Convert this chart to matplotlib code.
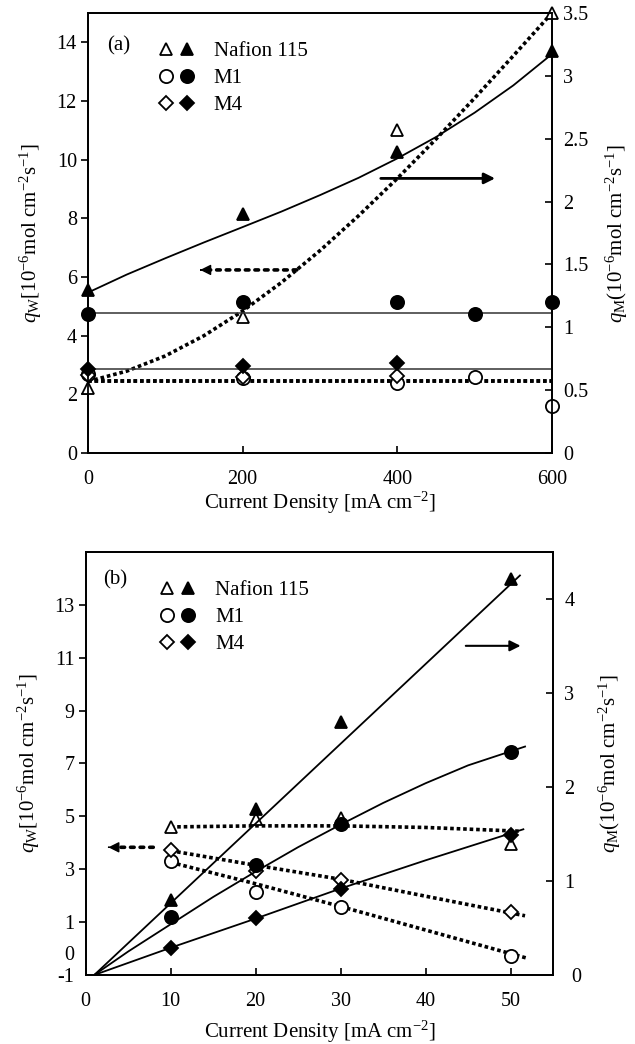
import matplotlib
matplotlib.use("Agg")
import matplotlib.pyplot as plt
from matplotlib.legend_handler import HandlerTuple

plt.rcParams['font.family'] = ['Liberation Serif', 'DejaVu Serif']
plt.rcParams['mathtext.fontset'] = 'custom'
plt.rcParams['mathtext.rm'] = 'Liberation Serif'
plt.rcParams['mathtext.it'] = 'Liberation Serif:italic'
plt.rcParams['font.size'] = 15

# ---- panel (a) data ----
cd_a = [0, 200, 400, 600]
naf_open_a = [2.2, 4.65, 11.0, 15.0]          # q_W, left axis
naf_fill_a = [1.295, 1.904, 2.396, 3.201]     # q_M, right axis
m1_x_a = [0, 200, 400, 500, 600]
m1_open_a = [2.7, 2.55, 2.4, 2.6, 1.6]
m1_fill_a = [1.104, 1.197, 1.197, 1.104, 1.197]
m4_x_a = [0, 200, 400]
m4_open_a = [2.65, 2.6, 2.62]
m4_fill_a = [0.665, 0.690, 0.717]

# trend lines
fit_xa = [0, 50, 100, 150, 200, 250, 300, 350, 400, 450, 500, 550, 600]
naf_open_fit_ya = [2.44, 2.79, 3.31, 4.00, 4.84, 5.81, 6.90, 8.09, 9.36, 10.70, 12.10, 13.54, 15.0]
naf_fill_fit_ya = [1.276, 1.419, 1.549, 1.675, 1.797, 1.920, 2.051, 2.189, 2.343, 2.513, 2.707, 2.924, 3.173]
flat_xa = [0, 600]
m1_fill_fit_a = [1.113, 1.113]
m4_fill_fit_a = [0.669, 0.669]
m1_open_fit_a = [2.45, 2.45]
m4_open_fit_a = [2.45, 2.45]

# ---- panel (b) data ----
cd_b = [10, 20, 30, 50]
naf_open_b = [4.61, 4.89, 4.95, 3.94]
naf_fill_b = [0.796, 1.77, 2.69, 4.21]
m1_open_b = [3.30, 2.14, 1.59, -0.30]
m1_fill_b = [0.619, 1.168, 1.61, 2.37]
m4_open_b = [3.72, 2.92, 2.61, 1.37]
m4_fill_b = [0.283, 0.602, 0.92, 1.486]

naf_open_fit_xb = [10, 20, 30, 40, 51]
naf_open_fit_yb = [4.60, 4.64, 4.64, 4.58, 4.44]
m1_open_fit_xb = [10, 20, 30, 40, 52]
m1_open_fit_yb = [3.26, 2.45, 1.59, 0.70, -0.37]
m4_open_fit_xb = [10, 20, 30, 40, 51.7]
m4_open_fit_yb = [3.70, 3.15, 2.62, 1.98, 1.24]
naf_fill_fit_xb = [1, 51.1]
naf_fill_fit_yb = [0, 4.25]
m1_fill_fit_xb = [1, 5, 10, 15, 20, 25, 30, 35, 40, 45, 51.7]
m1_fill_fit_yb = [0, 0.25, 0.54, 0.83, 1.10, 1.36, 1.60, 1.83, 2.04, 2.23, 2.43]
m4_fill_fit_xb = [1, 10, 20, 30, 40, 51.5]
m4_fill_fit_yb = [0, 0.29, 0.60, 0.92, 1.22, 1.55]

labels = ['Nafion 115', 'M1', 'M4']
left_label = r'$q_{\mathrm{W}}$[10$^{-6}$mol cm$^{-2}$s$^{-1}$]'
right_label = r'$q_{\mathrm{M}}$(10$^{-6}$mol cm$^{-2}$s$^{-1}$]'

dot = (0, (1, 0.8))
mk = dict(markeredgecolor='black', markeredgewidth=1.3, linestyle='none', clip_on=False, zorder=5)
open_kw = dict(markerfacecolor='white', **mk)
fill_kw = dict(markerfacecolor='black', **mk)
ms = {'^': 9, 'o': 9.5, 'D': 7}

fig = plt.figure(figsize=(6.35, 10.44), dpi=100)
ax_a = fig.add_axes([0.1386, 0.5661, 0.7307, 0.4215])
ax_b = fig.add_axes([0.1350, 0.0661, 0.7360, 0.4052])


def style(ax, ax2, xlabelpad):
    for a in (ax, ax2):
        for s in a.spines.values():
            s.set_linewidth(1.3)
    ax.tick_params(axis='y', direction='out', length=5, width=1.2, labelsize=14.5, pad=3)
    ax.tick_params(axis='x', direction='in', length=5, width=1.2, labelsize=14.5, pad=12)
    ax2.tick_params(axis='y', direction='in', length=5, width=1.2, labelsize=14.5, pad=8)
    ax.set_xlabel('Current Density [mA cm$^{-2}$]', fontsize=15, labelpad=xlabelpad)
    ax.set_ylabel(left_label, fontsize=15, labelpad=9)
    ax2.set_ylabel(right_label, fontsize=15, labelpad=11)


def dotted_arrow(ax, tip, tail):
    # dotted shaft, solid filled head
    ax.annotate('', xy=tip, xytext=tail,
                arrowprops=dict(arrowstyle='-', color='black', lw=2.6, linestyle=':',
                                shrinkA=0, shrinkB=6))
    ax.annotate('', xy=tip, xytext=(tip[0] + (tail[0] - tip[0]) * 0.01, tip[1]),
                arrowprops=dict(arrowstyle='-|>', color='black', lw=1, mutation_scale=16,
                                shrinkA=0, shrinkB=0))


# ---------- panel (a) ----------
ax_a2 = ax_a.twinx()
ax_a.set_xlim(0, 600)
ax_a.set_ylim(0, 15)
ax_a2.set_ylim(0, 3.5)
ax_a.set_xticks([0, 200, 400, 600])
ax_a.set_yticks(range(0, 15, 2))
ax_a2.set_yticks([0, 0.5, 1, 1.5, 2, 2.5, 3, 3.5], labels=['0', '0.5', '1', '1.5', '2', '2.5', '3', '3.5'])

ax_a.plot(fit_xa, naf_open_fit_ya, color='black', lw=2.6, linestyle=dot)
ax_a.plot(flat_xa, m1_open_fit_a, color='black', lw=2.6, linestyle=dot)
ax_a.plot(flat_xa, m4_open_fit_a, color='black', lw=2.6, linestyle=dot)
ax_a2.plot(fit_xa, naf_fill_fit_ya, color='black', lw=1.3)
ax_a2.plot(flat_xa, m1_fill_fit_a, color='#333333', lw=1.1)
ax_a2.plot(flat_xa, m4_fill_fit_a, color='#333333', lw=1.1)

h_no, = ax_a.plot(cd_a, naf_open_a, marker='^', markersize=ms['^'], **open_kw)
h_mo, = ax_a.plot(m1_x_a, m1_open_a, marker='o', markersize=ms['o'], **open_kw)
h_do, = ax_a.plot(m4_x_a, m4_open_a, marker='D', markersize=ms['D'], **open_kw)
h_nf, = ax_a2.plot(cd_a, naf_fill_a, marker='^', markersize=ms['^'], **fill_kw)
h_mf, = ax_a2.plot(m1_x_a, m1_fill_a, marker='o', markersize=ms['o'], **fill_kw)
h_df, = ax_a2.plot(m4_x_a, m4_fill_a, marker='D', markersize=ms['D'], **fill_kw)

ax_a.annotate('', xy=(530, 9.36), xytext=(375, 9.36),
              arrowprops=dict(arrowstyle='-|>', color='black', lw=2, mutation_scale=16))
dotted_arrow(ax_a, (145, 6.24), (270, 6.24))
ax_a.text(0.067, 0.925, '(a)', transform=ax_a.transAxes, ha='center', va='center', fontsize=15)
ax_a2.legend([(h_no, h_nf), (h_mo, h_mf), (h_do, h_df)], labels,
             handler_map={tuple: HandlerTuple(ndivide=None, pad=0)},
             loc='upper left', bbox_to_anchor=(0.1455, 0.935), frameon=False,
             borderpad=0, borderaxespad=0, handlelength=2.0, handletextpad=0.8,
             labelspacing=0.35, fontsize=15)
style(ax_a, ax_a2, 1)

# ---------- panel (b) ----------
ax_b2 = ax_b.twinx()
ax_b.set_xlim(0, 55)
ax_b.set_ylim(-1, 15)
ax_b2.set_ylim(0, 4.5)
ax_b.set_xticks([0, 10, 20, 30, 40, 50])
ax_b.set_yticks([1, 3, 5, 7, 9, 11, 13])
ax_b.set_yticks([-1, -0.15], labels=['-1', '0'], minor=True)
ax_b.tick_params(axis='y', which='minor', length=0, labelsize=14.5, pad=8)
ax_b2.set_yticks([1, 2, 3, 4])
ax_b2.set_yticks([0], labels=['0'], minor=True)
ax_b2.tick_params(axis='y', which='minor', length=0, labelsize=14.5, pad=13)

ax_b.plot(naf_open_fit_xb, naf_open_fit_yb, color='black', lw=2.6, linestyle=dot)
ax_b.plot(m1_open_fit_xb, m1_open_fit_yb, color='black', lw=2.6, linestyle=dot)
ax_b.plot(m4_open_fit_xb, m4_open_fit_yb, color='black', lw=2.6, linestyle=dot)
ax_b2.plot(naf_fill_fit_xb, naf_fill_fit_yb, color='black', lw=1.3)
ax_b2.plot(m1_fill_fit_xb, m1_fill_fit_yb, color='black', lw=1.3)
ax_b2.plot(m4_fill_fit_xb, m4_fill_fit_yb, color='black', lw=1.3)

g_no, = ax_b.plot(cd_b, naf_open_b, marker='^', markersize=ms['^'], **open_kw)
g_mo, = ax_b.plot(cd_b, m1_open_b, marker='o', markersize=ms['o'], **open_kw)
g_do, = ax_b.plot(cd_b, m4_open_b, marker='D', markersize=ms['D'], **open_kw)
g_nf, = ax_b2.plot(cd_b, naf_fill_b, marker='^', markersize=ms['^'], **fill_kw)
g_mf, = ax_b2.plot(cd_b, m1_fill_b, marker='o', markersize=ms['o'], **fill_kw)
g_df, = ax_b2.plot(cd_b, m4_fill_b, marker='D', markersize=ms['D'], **fill_kw)

ax_b.annotate('', xy=(51.5, 11.45), xytext=(44.4, 11.45),
              arrowprops=dict(arrowstyle='-|>', color='black', lw=1.5, mutation_scale=16))
dotted_arrow(ax_b, (2.66, 3.83), (7.95, 3.83))
ax_b.text(0.062, 0.935, '(b)', transform=ax_b.transAxes, ha='center', va='center', fontsize=15)
ax_b2.legend([(g_no, g_nf), (g_mo, g_mf), (g_do, g_df)], labels,
             handler_map={tuple: HandlerTuple(ndivide=None, pad=0)},
             loc='upper left', bbox_to_anchor=(0.152, 0.932), frameon=False,
             borderpad=0, borderaxespad=0, handlelength=2.0, handletextpad=0.8,
             labelspacing=0.35, fontsize=15)
style(ax_b, ax_b2, 6)

fig.savefig('out.png', dpi=100)
